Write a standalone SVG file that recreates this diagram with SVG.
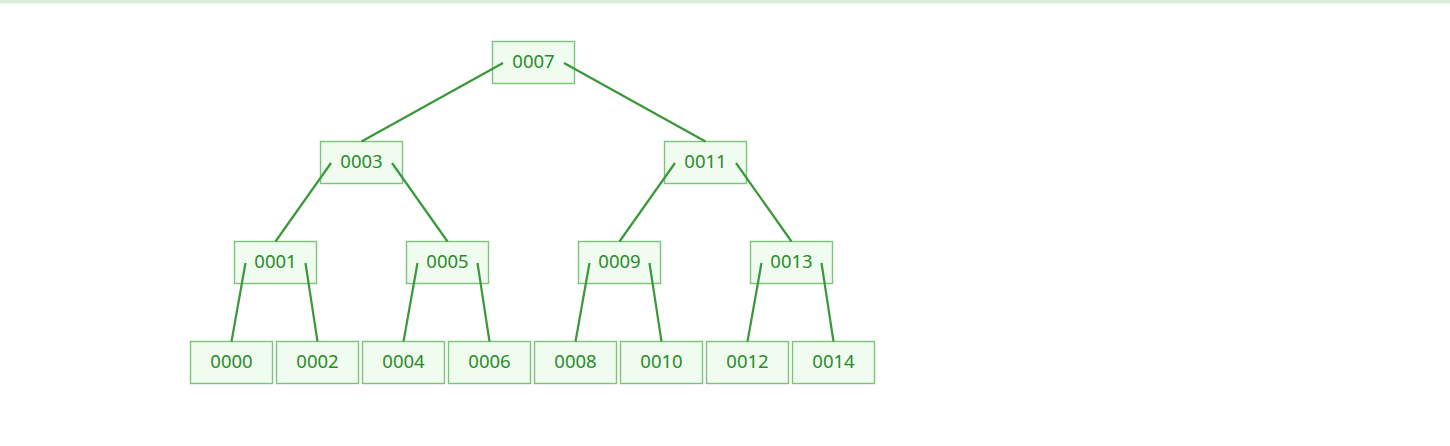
<svg xmlns="http://www.w3.org/2000/svg" width="1450" height="446" viewBox="0 0 1450 446">
<style>
.box{fill:#effcef;stroke:#7cc47c;stroke-width:1.4}
.lbl{font-family:"Noto Sans","Open Sans",sans-serif;font-size:18.5px;fill:#2a8a2a;text-anchor:middle}
.edge{stroke:#3a983a;stroke-width:2.2;fill:none}
</style>
<rect x="0" y="0" width="1450" height="3.5" fill="#d8eed8"/>
<g id="n0007"><rect class="box" x="492.5" y="41.5" width="82" height="42"/><text class="lbl" x="533.5" y="68">0007</text></g>
<g id="n0003"><rect class="box" x="320.5" y="141.5" width="82" height="42"/><text class="lbl" x="361.5" y="168">0003</text></g>
<g id="n0011"><rect class="box" x="664.5" y="141.5" width="82" height="42"/><text class="lbl" x="705.5" y="168">0011</text></g>
<g id="n0001"><rect class="box" x="234.5" y="241.5" width="82" height="42"/><text class="lbl" x="275.5" y="268">0001</text></g>
<g id="n0005"><rect class="box" x="406.5" y="241.5" width="82" height="42"/><text class="lbl" x="447.5" y="268">0005</text></g>
<g id="n0009"><rect class="box" x="578.5" y="241.5" width="82" height="42"/><text class="lbl" x="619.5" y="268">0009</text></g>
<g id="n0013"><rect class="box" x="750.5" y="241.5" width="82" height="42"/><text class="lbl" x="791.5" y="268">0013</text></g>
<g id="n0000"><rect class="box" x="190.5" y="341.5" width="82" height="42"/><text class="lbl" x="231.5" y="368">0000</text></g>
<g id="n0002"><rect class="box" x="276.5" y="341.5" width="82" height="42"/><text class="lbl" x="317.5" y="368">0002</text></g>
<g id="n0004"><rect class="box" x="362.5" y="341.5" width="82" height="42"/><text class="lbl" x="403.5" y="368">0004</text></g>
<g id="n0006"><rect class="box" x="448.5" y="341.5" width="82" height="42"/><text class="lbl" x="489.5" y="368">0006</text></g>
<g id="n0008"><rect class="box" x="534.5" y="341.5" width="82" height="42"/><text class="lbl" x="575.5" y="368">0008</text></g>
<g id="n0010"><rect class="box" x="620.5" y="341.5" width="82" height="42"/><text class="lbl" x="661.5" y="368">0010</text></g>
<g id="n0012"><rect class="box" x="706.5" y="341.5" width="82" height="42"/><text class="lbl" x="747.5" y="368">0012</text></g>
<g id="n0014"><rect class="box" x="792.5" y="341.5" width="82" height="42"/><text class="lbl" x="833.5" y="368">0014</text></g>
<g id="connectors">
<line class="edge" x1="503" y1="63" x2="361.5" y2="141.5"/>
<line class="edge" x1="564" y1="63" x2="705.5" y2="141.5"/>
<line class="edge" x1="331" y1="163" x2="275.5" y2="241.5"/>
<line class="edge" x1="392" y1="163" x2="447.5" y2="241.5"/>
<line class="edge" x1="675" y1="163" x2="619.5" y2="241.5"/>
<line class="edge" x1="736" y1="163" x2="791.5" y2="241.5"/>
<line class="edge" x1="245.5" y1="263" x2="231.5" y2="341.5"/>
<line class="edge" x1="305.5" y1="263" x2="317.5" y2="341.5"/>
<line class="edge" x1="417.5" y1="263" x2="403.5" y2="341.5"/>
<line class="edge" x1="477.5" y1="263" x2="489.5" y2="341.5"/>
<line class="edge" x1="589.5" y1="263" x2="575.5" y2="341.5"/>
<line class="edge" x1="649.5" y1="263" x2="661.5" y2="341.5"/>
<line class="edge" x1="761.5" y1="263" x2="747.5" y2="341.5"/>
<line class="edge" x1="821.5" y1="263" x2="833.5" y2="341.5"/>
</g>
</svg>
